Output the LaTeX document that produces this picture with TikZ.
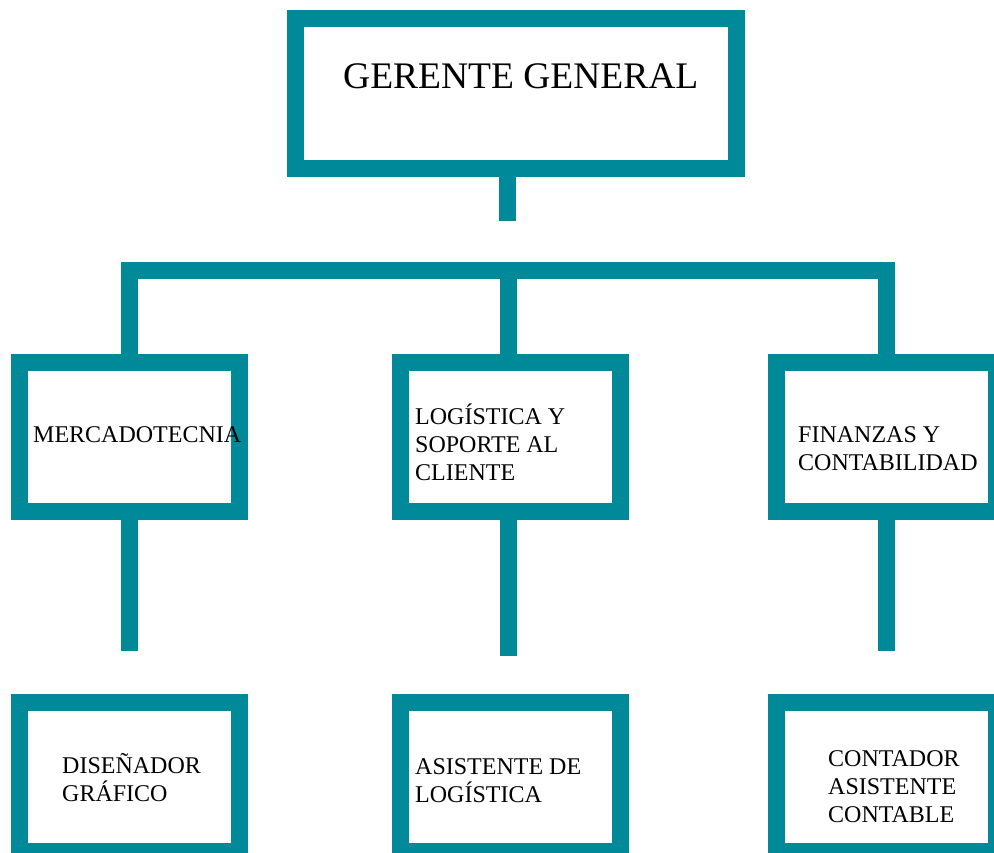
\documentclass[tikz,border=0pt]{standalone}
\usepackage{fontspec}
\setmainfont{Liberation Serif}
\usepackage{xcolor}
\usetikzlibrary{positioning}
\definecolor{orgteal}{RGB}{0,137,152}
\tikzset{
orgbox/.style={draw=orgteal, line width=17pt, minimum width=220pt, minimum height=149pt, inner sep=0pt},
link/.style={draw=orgteal, line width=17pt},
dept text/.style={anchor=base west, align=left, inner sep=0pt, font=\fontsize{24}{28}\selectfont}
}

\begin{document}
\begin{tikzpicture}[x=1pt,y=-1pt]
  \useasboundingbox (0,0) rectangle (994,853);
  % boxes
  \node[orgbox, minimum width=441pt, minimum height=150pt] (gerente) at (515.5,94) {};
  \node[orgbox] (mkt) at (129.5,436.5) {};
  \node[orgbox] (log) at (510.5,436.5) {};
  \node[orgbox] (fin) at (886.5,436.5) {};
  \node[orgbox] (dis) at (129.5,777) {};
  \node[orgbox] (asis) at (510.5,777) {};
  \node[orgbox] (cont) at (886.5,777) {};
  % connectors
  \coordinate (bar) at (508,270.5);
  \coordinate (gerente end) at (507.5,221);
  \coordinate (mkt end) at (129.5,651);
  \coordinate (log end) at (508,656);
  \coordinate (fin end) at (886.5,651);
  \draw[link] (gerente end |- gerente.south) -- (gerente end);
  \draw[link] (mkt.north) -- (mkt.north |- bar) -- (fin.north |- bar) -- (fin.north);
  \draw[link] (bar |- log.north) -- (bar);
  \foreach \n in {mkt,fin}
    \draw[link] (\n.south) -- (\n\space end);
  \draw[link] (log end |- log.south) -- (log end);
  % texts (multi-line ones sit on their last line)
  \node[dept text, font=\fontsize{37.5}{40}\selectfont] (gerente text) at (343,89) {GERENTE GENERAL};
  \node[dept text] (mkt text) at (33,442) {MERCADOTECNIA};
  \node[dept text] (log text) at (415,480) {LOGÍSTICA Y\\SOPORTE AL\\CLIENTE};
  \node[dept text] (fin text) at (798,470) {FINANZAS Y\\CONTABILIDAD};
  \node[dept text] (dis text) at (62,801) {DISEÑADOR\\GRÁFICO};
  \node[dept text] (asis text) at (415,802) {ASISTENTE DE\\LOGÍSTICA};
  \node[dept text] (cont text) at (828,822) {CONTADOR\\ASISTENTE\\CONTABLE};
\end{tikzpicture}
\end{document}
